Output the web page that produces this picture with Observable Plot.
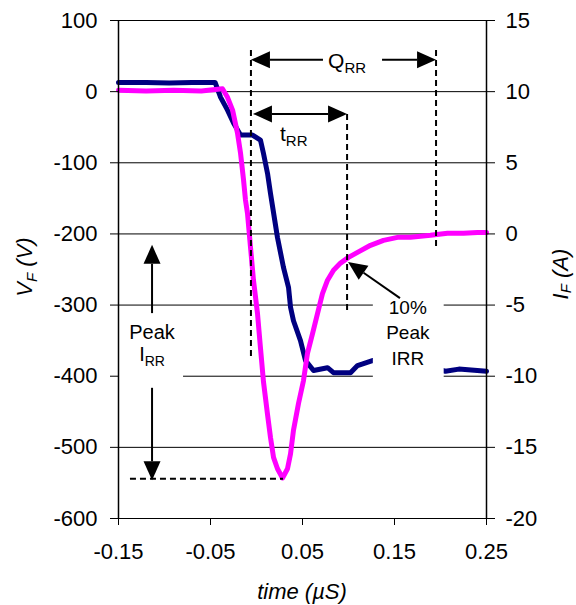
<!DOCTYPE html>
<html><head><meta charset="utf-8">
<script src="https://cdn.jsdelivr.net/npm/d3@7"></script>
<script src="https://cdn.jsdelivr.net/npm/@observablehq/plot@0.6"></script>
<style>body{margin:0;background:#fff}</style>
</head><body><div id="chart"></div>
<script>
// ---- axis ticks ----
const timeTicks = [-0.15, -0.05, 0.05, 0.15, 0.25];
const vTicks = [100, 0, -100, -200, -300, -400, -500, -600];
const iTicks = [15, 10, 5, 0, -5, -10, -15, -20];

// ---- V_F series (volts, left axis) ----
const vfTime  = [-0.15, -0.12, -0.095, -0.07, -0.045, -0.039, -0.0315, -0.025, -0.0174, -0.0043, 0.0043, 0.0076, 0.012, 0.0152, 0.0228, 0.0293, 0.0348, 0.037, 0.0402, 0.0478, 0.0533, 0.062, 0.0772, 0.0837, 0.1022, 0.1098, 0.126, 0.15, 0.18, 0.2054, 0.22, 0.25];
const vfVolts = [13, 13, 12, 13, 13, -8, -26, -44, -61, -61, -68, -87, -115, -143, -205, -247, -275, -303, -322, -350, -378, -392, -388, -395, -395, -385, -378, -380, -385, -393, -390, -393];

// ---- I_F series (amps, right axis) ----
const ifTime = [-0.15, -0.12, -0.09, -0.06, -0.037, -0.0315, -0.026, -0.0207, -0.0174, -0.0141, -0.012, -0.0098, -0.0065, -0.0033, 0.0011, 0.0043, 0.0076, 0.012, 0.0152, 0.0185, 0.0228, 0.0283, 0.0337, 0.037, 0.0402, 0.0457, 0.0511, 0.0554, 0.0609, 0.0663, 0.0717, 0.0772, 0.0837, 0.0913, 0.1, 0.1098, 0.1239, 0.138, 0.1533, 0.1674, 0.1891, 0.2076, 0.225, 0.2402, 0.25];
const ifAmps = [10.1, 10.05, 10.1, 10.05, 10.2, 9.6, 8.7, 7.1, 5.7, 3.8, 2.4, 1.45, -0.95, -3.25, -5.6, -8, -10.4, -12.7, -14.3, -15.7, -16.5, -17.15, -16.5, -15.45, -13.8, -11.9, -10.3, -8.4, -7.0, -5.6, -4.2, -3.25, -2.55, -2.05, -1.65, -1.3, -0.8, -0.45, -0.24, -0.24, -0.1, 0.05, 0.05, 0.1, 0.1];

// ---- annotations (data coordinates: time, volts) ----
const dashedLines = [
  {t1: -0.0055, v1: 58, t2: -0.0055, v2: -378},
  {t1: 0.1957, v1: 58, t2: 0.1957, v2: -220},
  {t1: 0.099, v1: -32, t2: 0.099, v2: -311},
  {t1: -0.137, v1: -545, t2: 0.0293, v2: -545}
];
const arrows = [
  {t1: 0.0728, v1: 44, t2: -0.0055, v2: 44, both: false},
  {t1: 0.137, v1: 44, t2: 0.1957, v2: 44, both: false},
  {t1: -0.0033, v1: -32, t2: 0.099, v2: -32, both: true},
  {t1: -0.113, v1: -312, t2: -0.113, v2: -216, both: false},
  {t1: -0.113, v1: -417, t2: -0.113, v2: -547, both: false},
  {t1: 0.1565, v1: -291, t2: 0.1, v2: -240, both: false}
];
const labelBoxes = [
  {t1: 0.127, v1: -285, t2: 0.204, v2: -420},
  {t1: -0.149, v1: -325, t2: -0.0793, v2: -432}
];

const FONT = "'Liberation Sans', Arial, Helvetica, sans-serif";
const iToV = a => a * 20 - 200;
const vToI = v => (v + 200) / 20;

const vfData = vfTime.map((t, i) => ({t, v: vfVolts[i]}));
const ifData = ifTime.map((t, i) => ({t, v: iToV(ifAmps[i])}));

function rich(g, x, y, parts, anchor = "middle", rotate = null) {
  const txt = g.append("text").attr("x", x).attr("y", y)
    .attr("text-anchor", anchor).attr("fill", "black");
  if (rotate !== null) txt.attr("transform", `rotate(${rotate},${x},${y})`);
  let shifted = 0;
  parts.forEach(p => {
    const ts = txt.append("tspan").text(p.t).attr("font-size", p.size);
    if (p.italic) ts.attr("font-style", "italic");
    const target = p.sub ? (p.shift || 5) : 0;
    if (target !== shifted) { ts.attr("dy", target - shifted); shifted = target; }
  });
  return txt;
}

function annotationMark(index, scales) {
  const X = scales.x, Y = scales.y;
  const g = d3.create("svg:g").attr("font-family", FONT);
  labelBoxes.forEach(b => g.append("rect")
    .attr("x", X(b.t1)).attr("y", Y(b.v1))
    .attr("width", X(b.t2) - X(b.t1)).attr("height", Y(b.v2) - Y(b.v1))
    .attr("fill", "white"));
  dashedLines.forEach(d => g.append("line")
    .attr("x1", X(d.t1)).attr("y1", Y(d.v1)).attr("x2", X(d.t2)).attr("y2", Y(d.v2))
    .attr("stroke", "black").attr("stroke-width", 2).attr("stroke-dasharray", "6,4"));
  const head = (xa, ya, xb, yb) => {
    const ang = Math.atan2(yb - ya, xb - xa), L = 19, hw = 8.5;
    const bx = xb - L * Math.cos(ang), by = yb - L * Math.sin(ang);
    const px = -Math.sin(ang) * hw, py = Math.cos(ang) * hw;
    g.append("polygon").attr("points", `${xb},${yb} ${bx + px},${by + py} ${bx - px},${by - py}`).attr("fill", "black");
    return [bx, by];
  };
  arrows.forEach(a => {
    let x1 = X(a.t1), y1 = Y(a.v1), x2 = X(a.t2), y2 = Y(a.v2);
    const e = head(x1, y1, x2, y2);
    let s = [x1, y1];
    if (a.both) s = head(x2, y2, x1, y1);
    g.append("line").attr("x1", s[0]).attr("y1", s[1]).attr("x2", e[0]).attr("y2", e[1])
      .attr("stroke", "black").attr("stroke-width", 2);
  });
  // text labels
  rich(g, X(0.099), Y(44) + 8, [{t: "Q", size: 21}, {t: "RR", size: 15, sub: true}]);
  rich(g, X(0.041), Y(-32) + 27, [{t: "t", size: 21}, {t: "RR", size: 15, sub: true}]);
  rich(g, X(-0.113), Y(-338) + 7, [{t: "Peak", size: 20}]);
  rich(g, X(-0.113), Y(-372) + 5, [{t: "I", size: 20}, {t: "RR", size: 14, sub: true}]);
  rich(g, X(0.165), Y(-303) + 7, [{t: "10%", size: 19}]);
  rich(g, X(0.165), Y(-338) + 7, [{t: "Peak", size: 19}]);
  rich(g, X(0.165), Y(-375) + 7, [{t: "IRR", size: 19}]);
  return g.node();
}

function titlesMark(index, scales, values, dims) {
  const g = d3.create("svg:g").attr("font-family", FONT);
  rich(g, 302, 599, [{t: "time (µS)", size: 22, italic: true}]);
  rich(g, 32, 267, [{t: "V", size: 22, italic: true}, {t: "F", size: 15, italic: true, sub: true}, {t: " (V)", size: 22, italic: true}], "middle", -90);
  rich(g, 568, 274, [{t: "I", size: 22, italic: true}, {t: "F", size: 15, italic: true, sub: true, shift: 3}, {t: " (A)", size: 22, italic: true}], "middle", -90);
  return g.node();
}

const chart = Plot.plot({
  width: 576,
  height: 605,
  marginLeft: 118,
  marginRight: 90,
  marginTop: 20,
  marginBottom: 87,
  style: {fontFamily: FONT, fontSize: "22px", background: "white", color: "black"},
  x: {domain: [-0.15, 0.25]},
  y: {domain: [-600, 100]},
  marks: [
    Plot.ruleY(vTicks, {stroke: "black", strokeWidth: 1}),
    Plot.line(vfData, {x: "t", y: "v", stroke: "#000080", strokeWidth: 5, strokeLinejoin: "round"}),
    Plot.line(ifData, {x: "t", y: "v", stroke: "#ff00ff", strokeWidth: 5, strokeLinejoin: "round"}),
    annotationMark,
    Plot.ruleX([-0.15, 0.25], {stroke: "black", strokeWidth: 1.5}),
    Plot.axisY(vTicks, {anchor: "left", tickSize: 8, tickPadding: 13, tickFormat: d => String(d), label: null, fontSize: 22}),
    Plot.axisY(iTicks.map(iToV), {anchor: "right", tickSize: 8, tickPadding: 11, tickFormat: d => String(vToI(d)), label: null, fontSize: 22}),
    Plot.axisX(timeTicks, {anchor: "bottom", tickSize: 7, tickPadding: 18, tickFormat: d => d.toFixed(2), label: null, fontSize: 22}),
    titlesMark
  ]
});
document.getElementById("chart").appendChild(chart);
</script>
</body></html>
